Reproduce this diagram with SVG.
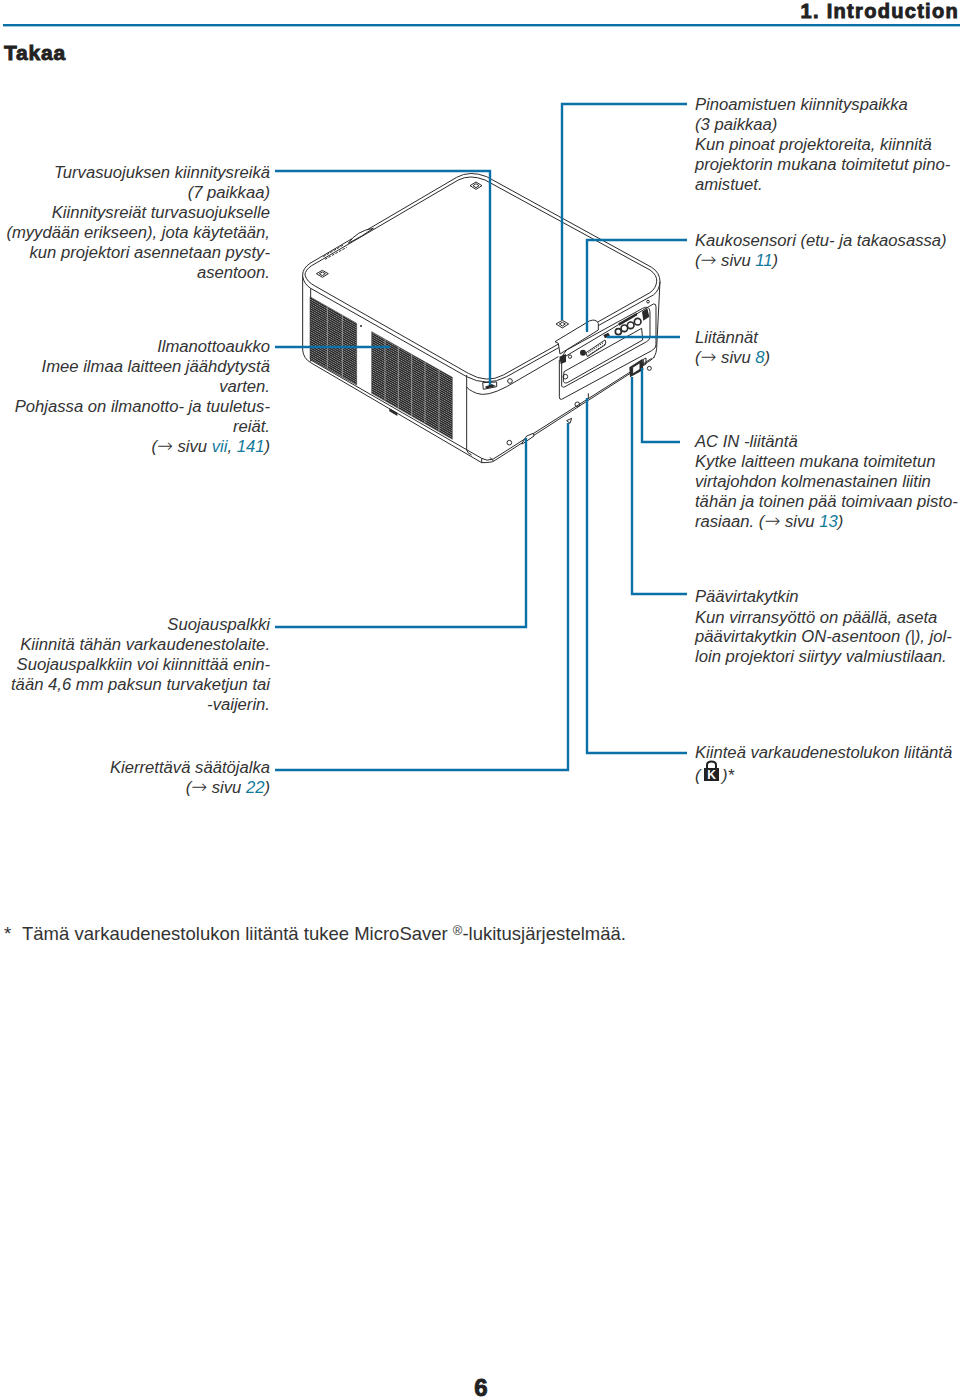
<svg xmlns="http://www.w3.org/2000/svg" width="960" height="1399" viewBox="0 0 960 1399">
<style>
text{font-family:"Liberation Sans",Arial,sans-serif;fill:#333}
.t{font-size:16.65px;font-style:italic;transform:translateY(.7px)}
.r{text-anchor:end}
.l{fill:#137a9c}
.a{font-family:"DejaVu Sans",sans-serif;font-style:normal;font-size:19px;font-weight:200}
.h{font-weight:bold;fill:#222;stroke:#222;stroke-width:.9px}
.c{fill:none;stroke:#0b6fa8;stroke-width:2.4}
.p{fill:none;stroke:#2a2a2a;stroke-width:3;stroke-linejoin:round}
.w{fill:#fff;stroke:#2a2a2a;stroke-width:3;stroke-linejoin:round}
.g{fill:url(#gr);stroke:#333;stroke-width:1.5}
.s{stroke:#bbb;stroke-width:2;fill:none}
.d{fill:#2a2a2a}
</style>
<defs>
<pattern id="gr" width="8" height="6.5" patternUnits="userSpaceOnUse" patternTransform="skewY(30)">
<rect width="8" height="6.5" fill="#8a8a8a"/><rect width="8" height="4.2" fill="#262626"/>
</pattern>
</defs>
<rect width="960" height="1399" fill="#fff"/>

<g id="header">
<rect x="3" y="24" width="957" height="2.4" fill="#0b6fa8"/>
<text class="h" x="959" y="18" text-anchor="end" font-size="20" letter-spacing="1.3">1. Introduction</text>
<text class="h" x="4" y="60" font-size="21" letter-spacing=".8">Takaa</text>
</g>

<g id="projector" transform="translate(290 160) scale(.33333)">
<path class="w" d="M38 345Q38 325 60 310L500 52Q540 30 590 50L1085 322Q1110 338 1110 365L1100 565Q1098 592 1080 602L612 903Q605 908 575 908L62 608Q40 595 38 570Z"/>
<path class="w" d="M175 250Q200 212 250 205L215 228Z"/>
<path class="p" d="M45 345Q45 330 65 317L505 60Q540 42 585 60L1080 330Q1102 345 1100 365Q1098 385 1080 398L640 645Q590 672 535 640L75 378Q50 365 45 345Z"/>
<path class="p" d="M38 350Q42 372 62 385L530 650Q590 682 650 650L1090 405Q1108 392 1110 365"/>
<path class="p" d="M530 645V680Q532 688 560 700Q590 712 650 680L805 590M530 680V870Q532 880 545 885M62 385V605M62 600L575 895Q590 905 610 897L1085 595"/>
<path class="p" d="M575 895V908M600 892L610 903"/>
<path class="p" d="M100 290L160 255M105 298L170 262" stroke-dasharray="8 4"/>
<path class="g" d="M60 410L200 490V675L60 597Z"/>
<path class="g" d="M245 515L487 652V838L245 700Z"/>
<path class="s" d="M112 440V625M157 465V650M285 538V722M325 560V745M365 583V768M405 606V790M447 630V815"/>
<path class="d" d="M298 745L322 758V768L298 754Z"/>
<circle class="d" cx="213" cy="498" r="3"/>
<g id="feet-pads">
<path class="w" d="M558 66L576 77L558 88L540 77Z"/>
<path class="p" d="M558 71L567 77L558 83L549 77Z"/>
<path class="w" d="M97 331L115 341L97 352L79 341Z"/>
<path class="p" d="M97 336L106 341L97 347L88 341Z"/>
<path class="w" d="M817 481L836 492L817 504L798 492Z"/>
<path class="p" d="M817 487L826 492L817 498L808 492Z"/>
</g>
<path class="w" d="M578 668L620 666V680L580 688Z"/>
<path class="d" d="M585 680L605 672L618 678L590 686Z"/>
<circle class="p" cx="660" cy="663" r="7"/>
<circle class="p" cx="658" cy="848" r="7"/>
<circle class="p" cx="862" cy="733" r="7"/>
<path class="p" d="M808 600L1090 432Q1098 430 1098 440L1098 555Q1098 565 1085 572L815 718Q808 720 808 710Z"/>
<path class="p" d="M830 570L1058 445Q1078 435 1080 455L1080 530Q1080 540 1070 545L825 680Q815 685 815 675L815 600Q815 585 830 570Z"/>
<path class="w" d="M822 635L1055 505L1058 540L832 668Q820 672 820 660Z"/>
<path class="w" d="M795 545L898 483Q918 475 925 490V510L810 582L805 550Z"/>
<path class="w" d="M888 578L945 540Q950 545 945 555L892 590Z"/>
<path class="p" d="M895 578L940 548M895 586L945 553" stroke-dasharray="4 3"/>
<circle class="d" cx="879" cy="578" r="9"/>
<circle class="p" cx="840" cy="590" r="5"/>
<circle class="p" cx="826" cy="650" r="7"/>
<path class="d" d="M808 590L828 582V606L812 612Z"/>
<path class="d" d="M940 525L955 518L960 528L945 535Z"/>
<g fill="#fff" stroke="#2a2a2a" stroke-width="5">
<circle cx="985" cy="515" r="9"/><circle cx="1003" cy="505" r="10"/><circle cx="1022" cy="496" r="10"/><circle cx="1043" cy="485" r="10"/>
</g>
<path class="d" d="M1056 455L1072 445L1078 470L1060 482Z"/>
<path class="d" d="M985 490L1040 458L1042 466L988 497Z"/>
<path class="d" d="M1018 622L1058 596L1060 630L1020 652Z"/>
<path class="w" d="M1028 622L1050 608V628L1028 642Z"/>
<path class="p" d="M1060 598L1068 594V612L1060 617Z"/>
<circle class="p" cx="1078" cy="625" r="6"/><circle class="p" cx="1074" cy="425" r="4"/>
<path class="p" d="M895 700V715"/>
<circle class="d" cx="1092" cy="592" r="2"/>
<path class="w" d="M695 852L710 828L730 820L732 828L700 850Z"/>
<path class="p" d="M830 782L845 775L840 790Z"/>
</g>

<g id="connectors">
<path class="c" d="M275 171H490V385"/>
<path class="c" d="M687 104H562V320"/>
<path class="c" d="M687 240H587V332"/>
<path class="c" d="M680 337H607"/>
<path class="c" d="M275 347H390"/>
<path class="c" d="M680 442H642V368"/>
<path class="c" d="M687 594H632V377"/>
<path class="c" d="M275 627H526V438"/>
<path class="c" d="M275 770H568V423"/>
<path class="c" d="M687 753H587V398"/>
</g>

<g id="n-turvasuojus">
<text class="t r" x="270" y="177">Turvasuojuksen kiinnitysreikä</text>
<text class="t r" x="270" y="197">(7 paikkaa)</text>
<text class="t r" x="270" y="217">Kiinnitysreiät turvasuojukselle</text>
<text class="t r" x="270" y="237">(myydään erikseen), jota käytetään,</text>
<text class="t r" x="270" y="257">kun projektori asennetaan pysty-</text>
<text class="t r" x="270" y="277">asentoon.</text>
</g>
<g id="n-ilmanotto">
<text class="t r" x="270" y="351">Ilmanottoaukko</text>
<text class="t r" x="270" y="371">Imee ilmaa laitteen jäähdytystä</text>
<text class="t r" x="270" y="391">varten.</text>
<text class="t r" x="270" y="411">Pohjassa on ilmanotto- ja tuuletus-</text>
<text class="t r" x="270" y="431">reiät.</text>
<text class="t r" x="270" y="451">(<tspan class="a">→</tspan> sivu <tspan class="l">vii</tspan>, <tspan class="l">141</tspan>)</text>
</g>
<g id="n-suojauspalkki">
<text class="t r" x="270" y="629">Suojauspalkki</text>
<text class="t r" x="270" y="649">Kiinnitä tähän varkaudenestolaite.</text>
<text class="t r" x="270" y="669">Suojauspalkkiin voi kiinnittää enin-</text>
<text class="t r" x="270" y="689">tään 4,6 mm paksun turvaketjun tai</text>
<text class="t r" x="270" y="709">-vaijerin.</text>
</g>
<g id="n-saatojalka">
<text class="t r" x="270" y="772">Kierrettävä säätöjalka</text>
<text class="t r" x="270" y="792">(<tspan class="a">→</tspan> sivu <tspan class="l">22</tspan>)</text>
</g>
<g id="n-pinoamistuki">
<text class="t" x="695" y="109">Pinoamistuen kiinnityspaikka</text>
<text class="t" x="695" y="129">(3 paikkaa)</text>
<text class="t" x="695" y="149">Kun pinoat projektoreita, kiinnitä</text>
<text class="t" x="695" y="169">projektorin mukana toimitetut pino-</text>
<text class="t" x="695" y="189">amistuet.</text>
</g>
<g id="n-kaukosensori">
<text class="t" x="695" y="245">Kaukosensori (etu- ja takaosassa)</text>
<text class="t" x="695" y="265">(<tspan class="a">→</tspan> sivu <tspan class="l">11</tspan>)</text>
</g>
<g id="n-liitannat">
<text class="t" x="695" y="342">Liitännät</text>
<text class="t" x="695" y="362">(<tspan class="a">→</tspan> sivu <tspan class="l">8</tspan>)</text>
</g>
<g id="n-acin">
<text class="t" x="695" y="446">AC IN -liitäntä</text>
<text class="t" x="695" y="466">Kytke laitteen mukana toimitetun</text>
<text class="t" x="695" y="486">virtajohdon kolmenastainen liitin</text>
<text class="t" x="695" y="506">tähän ja toinen pää toimivaan pisto-</text>
<text class="t" x="695" y="526">rasiaan. (<tspan class="a">→</tspan> sivu <tspan class="l">13</tspan>)</text>
</g>
<g id="n-paavirta">
<text class="t" x="695" y="601">Päävirtakytkin</text>
<text class="t" x="695" y="622">Kun virransyöttö on päällä, aseta</text>
<text class="t" x="695" y="641">päävirtakytkin ON-asentoon (|), jol-</text>
<text class="t" x="695" y="661">loin projektori siirtyy valmiustilaan.</text>
</g>
<g id="n-lukko">
<text class="t" x="695" y="757">Kiinteä varkaudenestolukon liitäntä</text>
<text class="t" x="695" y="780">(</text>
<path d="M707 769V765Q707 761.500 711.500 761.500Q716 761.500 716 765V769" fill="none" stroke="#222" stroke-width="2"/>
<rect x="704" y="768" width="15" height="13" fill="#222"/>
<text x="711.500" y="779" text-anchor="middle" font-size="12" font-weight="bold" style="fill:#fff">K</text>
<text class="t" x="722" y="780">)*</text>
</g>
<g id="footnote">
<text x="4" y="940" font-size="18.500">*</text>
<text x="22" y="940" font-size="18.500">Tämä varkaudenestolukon liitäntä tukee MicroSaver <tspan font-size="13" dy="-5">®</tspan><tspan dy="5">-lukitusjärjestelmää.</tspan></text>
</g>
<g id="page-number">
<text class="h" x="481" y="1396" text-anchor="middle" font-size="24">6</text>
</g>
</svg>
